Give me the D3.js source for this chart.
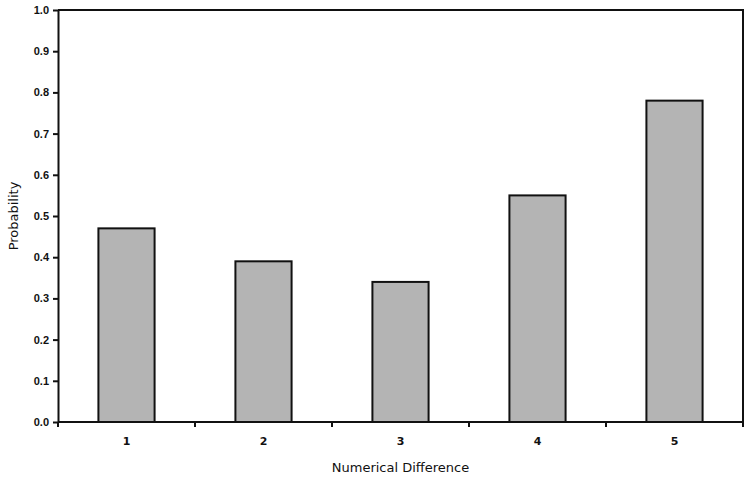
<!DOCTYPE html>
<html>
<head>
<meta charset="utf-8">
<script src="https://cdn.jsdelivr.net/npm/d3@7"></script>
<style>
  body { margin: 0; background: #fff; }
  svg { display: block; font-family: "DejaVu Sans", Verdana, sans-serif; }
</style>
</head>
<body>
<div id="chart"></div>
<script>
// data
const categories = ["1", "2", "3", "4", "5"];
const probabilities = [0.47, 0.39, 0.34, 0.55, 0.78];
const yTicks = [0, 0.1, 0.2, 0.3, 0.4, 0.5, 0.6, 0.7, 0.8, 0.9, 1.0];

const width = 750, height = 479;
const margin = { top: 10, right: 7, bottom: 57, left: 58 };
const innerW = width - margin.left - margin.right;
const innerH = height - margin.top - margin.bottom;

const svg = d3.select("#chart").append("svg")
    .attr("width", width).attr("height", height);
const plot = svg.append("g")
    .attr("transform", `translate(${margin.left},${margin.top})`);

const x = d3.scaleBand().domain(categories).range([0, innerW])
    .paddingInner(0.59).paddingOuter(0.295);
const y = d3.scaleLinear().domain([0, 1]).range([innerH, 0]);

// frame (top + right edges)
plot.append("path")
    .attr("d", `M0,0H${innerW}V${innerH}`)
    .attr("fill", "none").attr("stroke", "#111").attr("stroke-width", 2);

// bars
plot.selectAll("rect.bar").data(probabilities).join("rect")
    .attr("class", "bar")
    .attr("x", (d, i) => x(categories[i]))
    .attr("y", d => y(d))
    .attr("width", x.bandwidth())
    .attr("height", d => innerH - y(d))
    .attr("fill", "#b4b4b4")
    .attr("stroke", "#111").attr("stroke-width", 2);

// y axis
const yAxis = plot.append("g")
    .call(d3.axisLeft(y).tickValues(yTicks).tickFormat(d3.format(".1f"))
        .tickSize(5).tickSizeOuter(0).tickPadding(4));
yAxis.select(".domain").attr("stroke", "#111").attr("stroke-width", 2);
yAxis.selectAll(".tick line").attr("stroke", "#111").attr("stroke-width", 2);
yAxis.selectAll(".tick text").attr("fill", "#111")
    .style("font-size", "11px").style("font-weight", "bold");

// x axis: line with ticks between categories
const xAxis = plot.append("g").attr("transform", `translate(0,${innerH})`);
xAxis.append("line").attr("x1", 0).attr("x2", innerW)
    .attr("stroke", "#111").attr("stroke-width", 2);
const step = x.step();
const bounds = d3.range(categories.length + 1).map(i => i * step);
xAxis.selectAll("line.tk").data(bounds).join("line")
    .attr("class", "tk")
    .attr("x1", d => d).attr("x2", d => d)
    .attr("y1", 0).attr("y2", 5)
    .attr("stroke", "#111").attr("stroke-width", 2);
xAxis.selectAll("text").data(categories).join("text")
    .attr("x", d => x(d) + x.bandwidth() / 2)
    .attr("y", 23)
    .attr("text-anchor", "middle")
    .attr("fill", "#111")
    .style("font-size", "11px").style("font-weight", "bold")
    .text(d => d);

// axis titles
svg.append("text")
    .attr("x", margin.left + innerW / 2).attr("y", 472)
    .attr("text-anchor", "middle").attr("fill", "#111")
    .style("font-size", "13px")
    .text("Numerical Difference");
svg.append("text")
    .attr("transform", `translate(18,${margin.top + innerH / 2}) rotate(-90)`)
    .attr("text-anchor", "middle").attr("fill", "#111")
    .style("font-size", "13px")
    .text("Probability");
</script>
</body>
</html>
